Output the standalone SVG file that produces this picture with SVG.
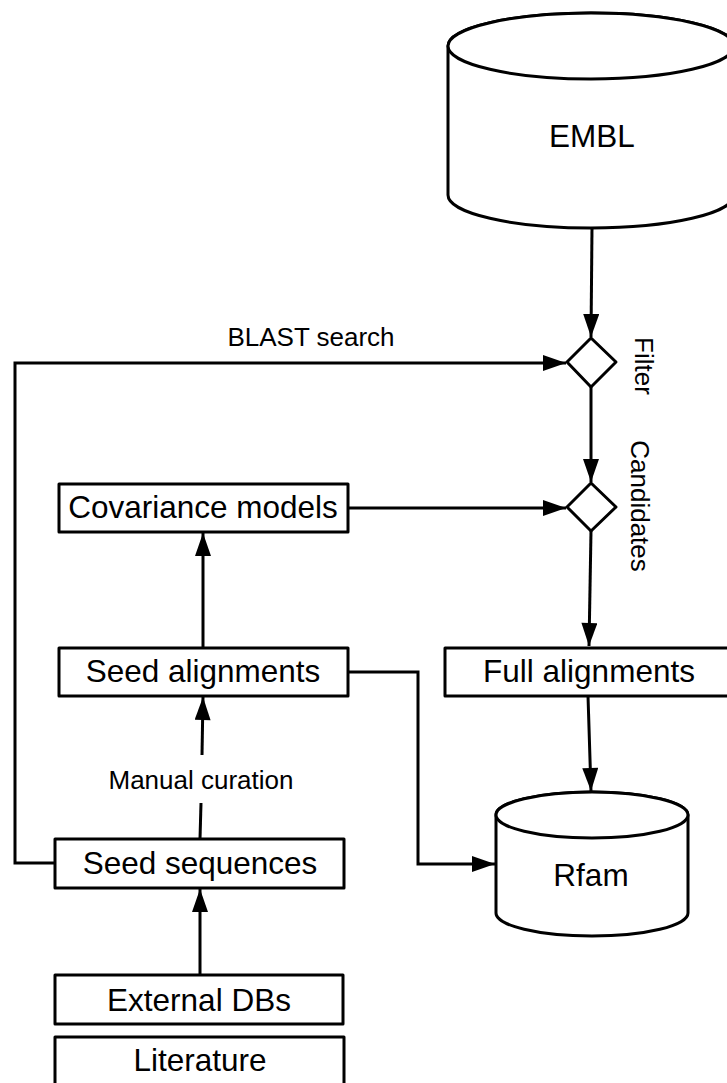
<svg xmlns="http://www.w3.org/2000/svg" width="727" height="1083" viewBox="0 0 727 1083">
<style>
.shape{fill:#fff;stroke:#000;stroke-width:3;stroke-linejoin:round}
.conn{fill:none;stroke:#000;stroke-width:3}
.lbl{font-family:"Liberation Sans",Arial,sans-serif;font-size:31.5px;fill:#000;text-anchor:middle}
.small{font-family:"Liberation Sans",Arial,sans-serif;font-size:26px;fill:#000;text-anchor:middle}
</style>
<defs>
<marker id="arr" markerUnits="userSpaceOnUse" markerWidth="24" markerHeight="16" refX="23" refY="8" orient="auto" viewBox="0 0 23 16">
<path d="M0,0 L23,8 L0,16 z" fill="#000"/>
</marker>
</defs>
<rect width="727" height="1083" fill="#fff"/>
<g id="connectors">
<path class="conn" d="M592,228 L591,337" marker-end="url(#arr)"/>
<path class="conn" d="M55,863 L15,863 L15,363 L566,363" marker-end="url(#arr)"/>
<path class="conn" d="M591,387 L591,482" marker-end="url(#arr)"/>
<path class="conn" d="M348,508 L566,508" marker-end="url(#arr)"/>
<path class="conn" d="M591,531 L589,646" marker-end="url(#arr)"/>
<path class="conn" d="M203,647 L203,533" marker-end="url(#arr)"/>
<path class="conn" d="M348,672 L418,672 L418,864 L495,864" marker-end="url(#arr)"/>
<path class="conn" d="M588,696 L591,791" marker-end="url(#arr)"/>
<path class="conn" d="M200,839 L201,803"/>
<path class="conn" d="M202,755 L203,697" marker-end="url(#arr)"/>
<path class="conn" d="M200,975 L200,889" marker-end="url(#arr)"/>
<text class="small" x="311" y="346">BLAST search</text>
<text class="small" x="201" y="789">Manual curation</text>
</g>
<g id="embl">
<path class="shape" d="M448,46 L448,195 A143,33 0 0 0 734,195 L734,46 A143,33 0 0 0 448,46 Z"/>
<ellipse class="shape" cx="591" cy="46" rx="143" ry="33"/>
<text class="lbl" x="592" y="147">EMBL</text>
</g>
<g id="filter">
<polygon class="shape" points="591,338 616,362 591,387 567,362"/>
<text class="small" transform="translate(635,366) rotate(90)">Filter</text>
</g>
<g id="candidates">
<polygon class="shape" points="591,483 616,507 591,531 567,507"/>
<text class="small" transform="translate(631,506) rotate(90)">Candidates</text>
</g>
<g id="covariance-models">
<rect class="shape" x="59" y="484" width="289" height="48"/>
<text class="lbl" x="203" y="518">Covariance models</text>
</g>
<g id="seed-alignments">
<rect class="shape" x="59" y="648" width="289" height="48"/>
<text class="lbl" x="203" y="682">Seed alignments</text>
</g>
<g id="full-alignments">
<rect class="shape" x="445" y="648" width="300" height="48"/>
<text class="lbl" x="589" y="682">Full alignments</text>
</g>
<g id="rfam">
<path class="shape" d="M496,815 L496,913 A96,23 0 0 0 688,913 L688,815 A96,23 0 0 0 496,815 Z"/>
<ellipse class="shape" cx="592" cy="815" rx="96" ry="23"/>
<text class="lbl" x="591" y="886">Rfam</text>
</g>
<g id="seed-sequences">
<rect class="shape" x="55" y="839" width="289" height="49"/>
<text class="lbl" x="200" y="874">Seed sequences</text>
</g>
<g id="external-dbs">
<rect class="shape" x="55" y="975" width="288" height="49"/>
<text class="lbl" x="199" y="1011">External DBs</text>
</g>
<g id="literature">
<rect class="shape" x="55" y="1037" width="289" height="60"/>
<text class="lbl" x="200" y="1071">Literature</text>
</g>
</svg>
